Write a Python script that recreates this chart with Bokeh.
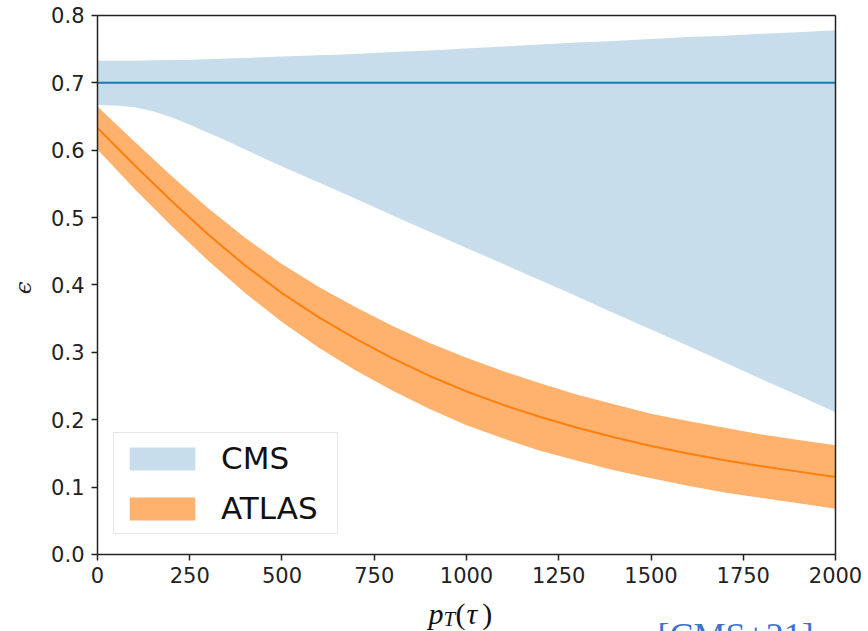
import math
from bokeh.plotting import figure
from bokeh.models import (Range1d, Label, Legend, LegendItem, FixedTicker,
                          PrintfTickFormatter, ColumnDataSource, LinearAxis)
from bokeh.embed import file_html
from bokeh.resources import INLINE

# ---- data ----
cms_pt = [0, 50, 100, 150, 200, 250, 300, 350, 400, 450, 500, 600, 700, 800, 900, 1000,
          1100, 1200, 1300, 1400, 1500, 1600, 1700, 1800, 1900, 2000]
cms_center = [0.7, 0.7, 0.7, 0.7, 0.7, 0.7, 0.7, 0.7, 0.7, 0.7, 0.7, 0.7, 0.7, 0.7, 0.7, 0.7,
              0.7, 0.7, 0.7, 0.7, 0.7, 0.7, 0.7, 0.7, 0.7, 0.7]
cms_upper = [0.733, 0.733, 0.733, 0.7335, 0.734, 0.7345, 0.735, 0.736, 0.737, 0.738, 0.739,
             0.741, 0.743, 0.746, 0.748, 0.751, 0.754, 0.757, 0.760, 0.762, 0.765,
             0.768, 0.770, 0.773, 0.775, 0.778]
cms_lower = [0.667, 0.6665, 0.664, 0.658, 0.649, 0.638, 0.626, 0.614, 0.601, 0.5885, 0.576,
             0.552, 0.528, 0.503, 0.479, 0.455, 0.431, 0.407, 0.383, 0.358, 0.334,
             0.310, 0.285, 0.260, 0.236, 0.211]

atlas_pt = [0, 100, 200, 300, 400, 500, 600, 700, 800, 900, 1000,
            1100, 1200, 1300, 1400, 1500, 1600, 1700, 1800, 1900, 2000]
atlas_center = [0.633, 0.578, 0.525, 0.475, 0.429, 0.388, 0.352, 0.320, 0.291, 0.265, 0.242,
                0.222, 0.204, 0.188, 0.174, 0.161, 0.150, 0.140, 0.131, 0.123, 0.115]
atlas_upper = [0.665, 0.613, 0.562, 0.514, 0.470, 0.431, 0.397, 0.367, 0.339, 0.314, 0.292,
               0.272, 0.254, 0.237, 0.223, 0.209, 0.198, 0.188, 0.178, 0.170, 0.162]
atlas_lower = [0.601, 0.543, 0.488, 0.436, 0.388, 0.345, 0.307, 0.273, 0.243, 0.216, 0.192,
               0.172, 0.154, 0.139, 0.125, 0.113, 0.102, 0.092, 0.084, 0.076, 0.068]

x_ticks = [0, 250, 500, 750, 1000, 1250, 1500, 1750, 2000]
y_ticks = [0.0, 0.1, 0.2, 0.3, 0.4, 0.5, 0.6, 0.7, 0.8]
legend_labels = ["CMS", "ATLAS"]
y_label = "ϵ"
x_label_parts = ["p", "T", "(", "τ", ")"]
citation = "[CMS+21]"

cms_src = ColumnDataSource(dict(pt=cms_pt, c=cms_center, up=cms_upper, lo=cms_lower))
atlas_src = ColumnDataSource(dict(pt=atlas_pt, c=atlas_center, up=atlas_upper, lo=atlas_lower))

INK = "#222222"

# The frame fills the whole canvas; the axes are drawn at fixed places inside it:
# data x 0..2000 -> px 97..835, data y 0..0.8 -> px 554..15
p = figure(width=868, height=631, title=None,
           x_range=Range1d(-262.87, 2089.43), y_range=Range1d(-0.114286, 0.822263),
           output_backend="svg", toolbar_location=None,
           x_axis_location=None, y_axis_location=None,
           min_border=0, min_border_left=0, min_border_right=0,
           min_border_top=0, min_border_bottom=0)

p.grid.visible = False
p.outline_line_color = None
p.background_fill_color = "white"
p.border_fill_color = "white"

blue = "#1f77b4"
orange = "#ff7f0e"

r_cms = p.varea(x="pt", y1="lo", y2="up", source=cms_src, fill_color=blue, fill_alpha=0.25)
r_atlas = p.varea(x="pt", y1="lo", y2="up", source=atlas_src, fill_color=orange, fill_alpha=0.6)
p.line(x="pt", y="c", source=cms_src, line_color=blue, line_width=2)
p.line(x="pt", y="c", source=atlas_src, line_color=orange, line_width=2)


def style(ax, labels=True):
    ax.axis_line_color = INK
    ax.axis_line_width = 1.5
    ax.major_tick_line_color = INK
    ax.major_tick_line_width = 1.5
    ax.major_tick_out = 6
    ax.major_tick_in = 0
    ax.minor_tick_out = 0
    ax.minor_tick_in = 0
    ax.major_label_text_font = "DejaVu Sans"
    ax.major_label_text_font_size = "21px" if labels else "0px"
    ax.major_label_text_color = INK


xax = LinearAxis(ticker=FixedTicker(ticks=x_ticks), fixed_location=0, bounds=(0, 2000))
style(xax)
xax.major_label_standoff = 7
p.add_layout(xax, "below")

yax = LinearAxis(ticker=FixedTicker(ticks=y_ticks), fixed_location=0, bounds=(0, 0.8),
                 formatter=PrintfTickFormatter(format="%.1f"))
style(yax)
yax.major_label_standoff = 7
p.add_layout(yax, "left")

rax = LinearAxis(ticker=FixedTicker(ticks=[]), fixed_location=2000, bounds=(0, 0.8))
style(rax, labels=False)
p.add_layout(rax, "right")

tax = LinearAxis(ticker=FixedTicker(ticks=[]), fixed_location=0.8, bounds=(0, 2000))
style(tax, labels=False)
p.add_layout(tax, "above")

# y axis label
p.add_layout(Label(x=-203, y=0.396, text=y_label, angle=math.pi / 2,
                   text_font="DejaVu Serif", text_font_style="italic",
                   text_font_size="23px", text_color=INK,
                   text_align="center", text_baseline="middle"))

# x axis label p_T(tau), from text pieces placed in data units
lab_specs = [
    (x_label_parts[0], 897.0, -0.0876, "30px", "italic"),
    (x_label_parts[1], 937.7, -0.0950, "21px", "italic"),
    (x_label_parts[2], 970.2, -0.0876, "30px", "normal"),
    (x_label_parts[3], 1000.0, -0.0876, "30px", "italic"),
    (x_label_parts[4], 1043.0, -0.0876, "30px", "normal"),
]
for txt, lx, ly, fs, st in lab_specs:
    p.add_layout(Label(x=lx, y=ly, text=txt,
                       text_font="Liberation Serif", text_font_style=st,
                       text_font_size=fs, text_color="#111111",
                       text_baseline="alphabetic", text_align="left"))

# citation, cut by the bottom edge as in the reference
p.add_layout(Label(x=1517.6, y=-0.092, text=citation,
                   text_font="Liberation Serif", text_font_size="36px",
                   text_color="#3f72c8", text_baseline="top", text_align="left"))

legend = Legend(items=[LegendItem(label=legend_labels[0], renderers=[r_cms]),
                       LegendItem(label=legend_labels[1], renderers=[r_atlas])],
                location=(113, 97), margin=0, padding=7, spacing=14,
                glyph_width=82, glyph_height=29, label_standoff=18, label_width=109,
                label_text_font="DejaVu Sans", label_text_font_size="31px",
                label_text_color="#111111",
                border_line_color="#d0d0d0", border_line_width=1.5,
                background_fill_color="white", background_fill_alpha=0.8)
p.add_layout(legend)

open("out.html", "w").write(file_html(p, INLINE))
